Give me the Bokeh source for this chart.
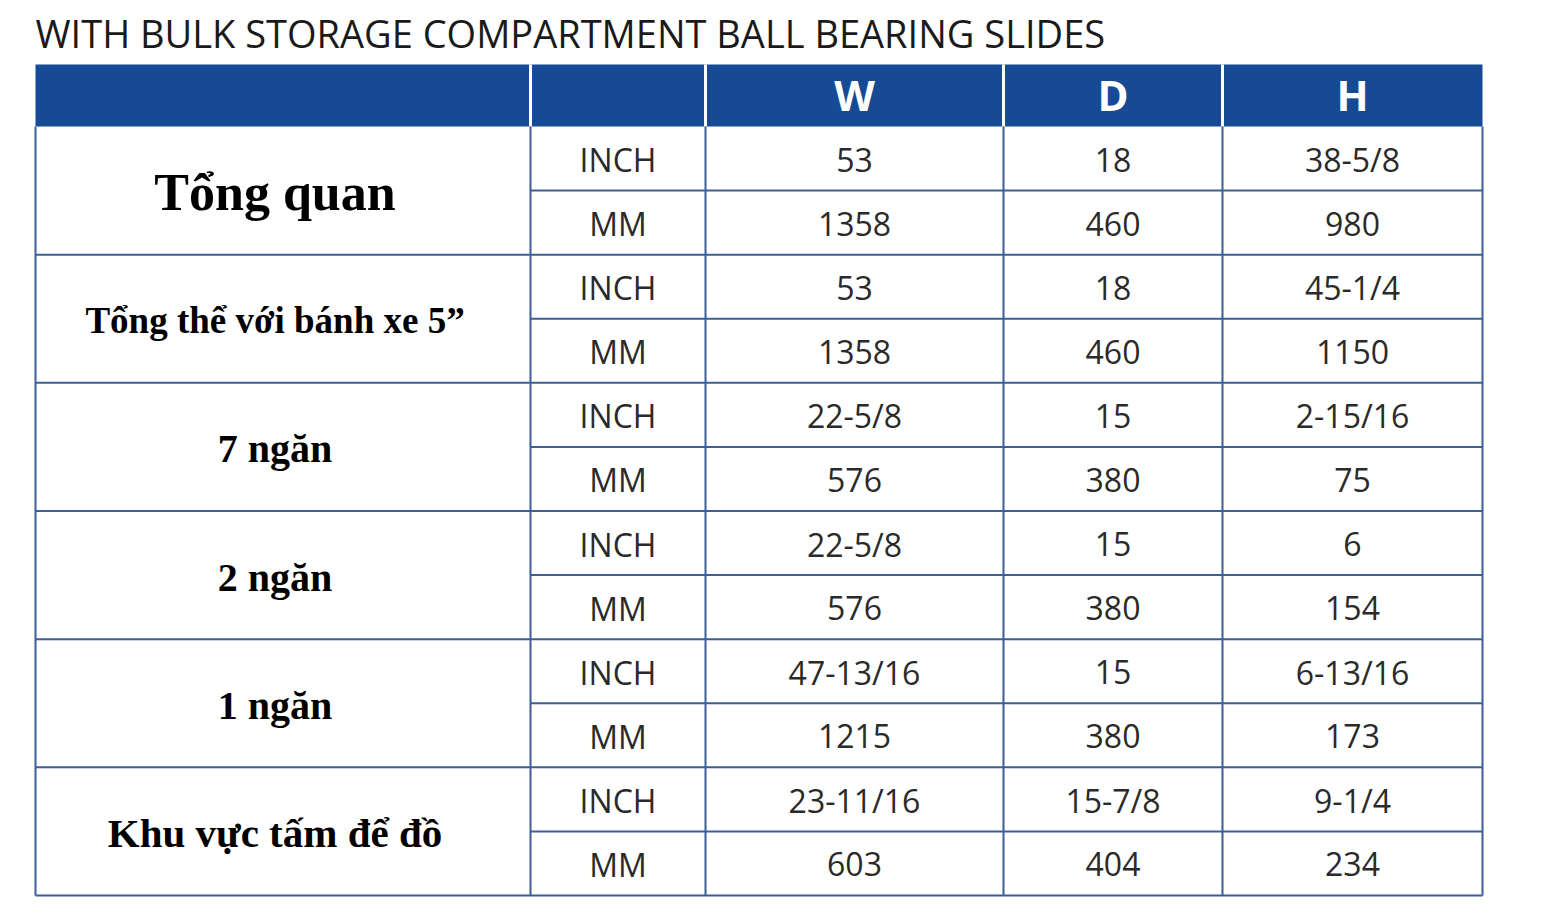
from bokeh.plotting import figure
from bokeh.models import Range1d
from bokeh.core.properties import value
from bokeh.embed import file_html
from bokeh.resources import INLINE

title_text = "WITH BULK STORAGE COMPARTMENT BALL BEARING SLIDES"
header_labels = ["", "", "W", "D", "H"]
groups = ["Tổng quan", "Tổng thể với bánh xe 5”", "7 ngăn", "2 ngăn", "1 ngăn", "Khu vực tấm để đồ"]
units = ["INCH", "MM"]
W_vals = ["53", "1358", "53", "1358", "22-5/8", "576", "22-5/8", "576", "47-13/16", "1215", "23-11/16", "603"]
D_vals = ["18", "460", "18", "460", "15", "380", "15", "380", "15", "380", "15-7/8", "404"]
H_vals = ["38-5/8", "980", "45-1/4", "1150", "2-15/16", "75", "6", "154", "6-13/16", "173", "9-1/4", "234"]

# layout (screen-pixel coordinates)
col_x = [35, 530, 705, 1003, 1222, 1482]
head_top, head_bot = 64, 126
table_bot = 895
n_rows = len(W_vals)
row_h = (table_bot - head_bot) / n_rows

p = figure(width=1540, height=908, output_backend="svg", toolbar_location=None,
           x_range=Range1d(0, 1540), y_range=Range1d(908, 0), min_border=0)
p.axis.visible = False
p.grid.visible = False
p.outline_line_color = None
p.background_fill_color = "white"
p.border_fill_color = "white"

# title
p.text(x=[35], y=[32], text=[title_text], text_font=value("Open Sans"),
       text_font_size="38px", text_color="#1a1a1a", text_baseline="middle", text_align="left")

# header band
p.quad(left=[col_x[0]], right=[col_x[-1]], top=[head_top], bottom=[head_bot],
       fill_color="#174a94", line_color=None)
p.segment(x0=col_x[1:-1], x1=col_x[1:-1], y0=[head_top] * 4, y1=[head_bot] * 4,
          line_color="white", line_width=3)
centers = [(col_x[i] + col_x[i + 1]) / 2 for i in range(5)]
p.text(x=centers[2:], y=[(head_top + head_bot) / 2 - 1] * 3, text=header_labels[2:],
       text_font=value("Open Sans"), text_font_style="bold", text_font_size="42px",
       text_color="white", text_align="center", text_baseline="middle")

# grid lines
line_col = "#3b5e99"
xs0, xs1, ys = [], [], []
for r in range(1, n_rows + 1):
    y = head_bot + r * row_h
    xs0.append(col_x[0] if r % 2 == 0 else col_x[1])
    xs1.append(col_x[-1])
    ys.append(y)
p.segment(x0=xs0, x1=xs1, y0=ys, y1=ys, line_color=line_col, line_width=2)
p.segment(x0=col_x, x1=col_x, y0=[head_bot] * 6, y1=[table_bot] * 6,
          line_color=line_col, line_width=2)

# group labels
gy = [head_bot + (2 * i + 1) * row_h + 2 for i in range(len(groups))]
sizes = ["52px", "37px", "40px", "40px", "40px", "41px"]
label_x = centers[0] - 8
for g, y, s in zip(groups, gy, sizes):
    p.text(x=[label_x], y=[y], text=[g], text_font=value("Liberation Serif"),
           text_font_style="bold", text_font_size=s, text_color="black",
           text_align="center", text_baseline="middle")

# cells
ry = [head_bot + (r + 0.5) * row_h + 1 for r in range(n_rows)]
unit_col = [units[r % 2] for r in range(n_rows)]
for ci, vals in zip([1, 2, 3, 4], [unit_col, W_vals, D_vals, H_vals]):
    p.text(x=[centers[ci]] * n_rows, y=ry, text=vals, text_font=value("Open Sans"),
           text_font_size="32px", text_color="#2a2a2a", text_align="center",
           text_baseline="middle")

open("out.html", "w").write(file_html(p, INLINE))
